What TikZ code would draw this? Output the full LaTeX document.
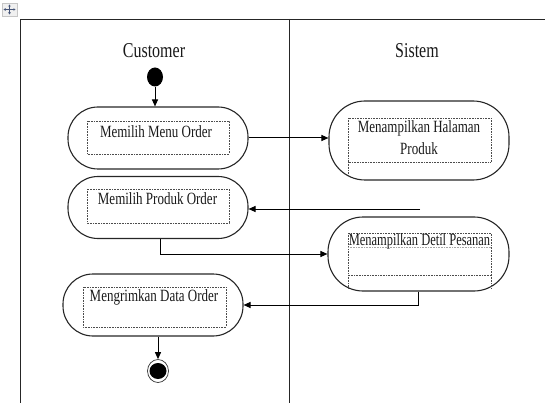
\documentclass[tikz,border=0pt]{standalone}
\usepackage{fontspec}
\setmainfont{Liberation Serif}
\usetikzlibrary{arrows.meta,shapes.geometric}
% text in this diagram is set slightly tall
\newcommand{\tallbox}[2][1]{\scalebox{#1}[1.32]{#2}}

\begin{document}
\begin{tikzpicture}[x=1pt,y=-1pt,
  lane/.style={draw=black!85, line width=0.9pt},
  activity/.style={draw=black!85, line width=1.1pt, rounded corners=30pt,
    minimum width=180pt, minimum height=62pt, inner sep=0pt},
  innerbox/.style={draw=black!70, densely dotted, line width=0.6pt},
  flow/.style={draw=black, line width=1pt, -{Triangle[length=7pt,width=6pt]}},
  actlabel/.style={font=\fontsize{13pt}{15pt}\selectfont, inner sep=0pt, text=black!90},
  lanetitle/.style={font=\fontsize{16pt}{18pt}\selectfont, inner sep=0pt, text=black!90},
  startnode/.style={ellipse, fill=black, minimum width=16pt, minimum height=19pt, inner sep=0pt},
  endnode/.style={ellipse, draw=black!80, line width=0.7pt, minimum width=21pt, minimum height=23pt, inner sep=0pt,
    path picture={\fill[black] (path picture bounding box.center) ellipse (8.5pt and 8pt);}}
]
\useasboundingbox (0,0) rectangle (545,403);

% table handle
\fill[gray!12] (2,3) rectangle (17,16);
\draw[gray!45, line width=0.4pt] (2,3) rectangle (17,16);
\draw[{Triangle[length=2pt,width=2.5pt]}-{Triangle[length=2pt,width=2.5pt]}, draw={rgb,255:red,70;green,85;blue,120}, line width=0.6pt] (9.5,4.5) -- (9.5,14.5);
\draw[{Triangle[length=2pt,width=2.5pt]}-{Triangle[length=2pt,width=2.5pt]}, draw={rgb,255:red,70;green,85;blue,120}, line width=0.6pt] (3.5,9.5) -- (15.5,9.5);

% swimlanes
\draw[lane] (20,403) -- (20,19) -- (545,19);
\draw[lane] (289,19) -- (289,403);
\node[lanetitle] (t1) at (154,51) {\tallbox{Customer}};
\node[lanetitle] (t2) at (417,51) {\tallbox{Sistem}};

% activities
\node[activity] (a1) at (158,138) {};
\node[activity] (a2) at (158,207.5) {};
\node[activity] (a3) at (153,305) {};
\node[activity, minimum height=79pt, rounded corners=36pt] (a4) at (419,140.5) {};
\node[activity, minimum width=181pt, minimum height=74pt, rounded corners=35pt] (a5) at (418.5,254) {};

% dotted text frames
\draw[innerbox] (87,121) rectangle (229,154);
\draw[innerbox] (87,189) rectangle (229,223);
\draw[innerbox] (83,287) rectangle (226,327);
\draw[innerbox] (348,118) rectangle (491,162);
\draw[innerbox] (348,162) -- (348,175);
\draw[innerbox] (348,233) rectangle (491,275);
\draw[innerbox, draw=black!35] (348,247) -- (491,247);
\draw[innerbox] (348,275) -- (348,288);
\draw[innerbox] (491,275) -- (491,288);

% labels
\node[actlabel] (l1) at (156,132) {\tallbox{Memilih Menu Order}};
\node[actlabel] (l2) at (157.5,199) {\tallbox{Memilih Produk Order}};
\node[actlabel] (l3) at (154,297) {\tallbox{Mengrimkan Data Order}};
\node[actlabel] (l4a) at (419,128) {\tallbox{Menampilkan Halaman}};
\node[actlabel] (l4b) at (419,149) {\tallbox{Produk}};
\node[actlabel] (l5) at (419.5,241) {\tallbox[0.96]{Menampilkan Detil Pesanan}};

% initial and final states
\node[startnode] (s) at (155,77) {};
\node[endnode] (e) at (158,371) {};

% control flow
\coordinate (f2) at (420,209);
\draw[flow] (s.south) -- (s.south |- a1.north);
\draw[flow] (a1.east) -- (a1.east -| a4.west);
\draw[flow] (f2) -- (f2 -| a2.east);
\draw[flow] ([xshift=2pt]a2.south) |- (a5.west);
\draw[flow] (a5.south) |- (a3.east);
\draw[flow] (e |- a3.south) -- (e.north);
\end{tikzpicture}
\end{document}
